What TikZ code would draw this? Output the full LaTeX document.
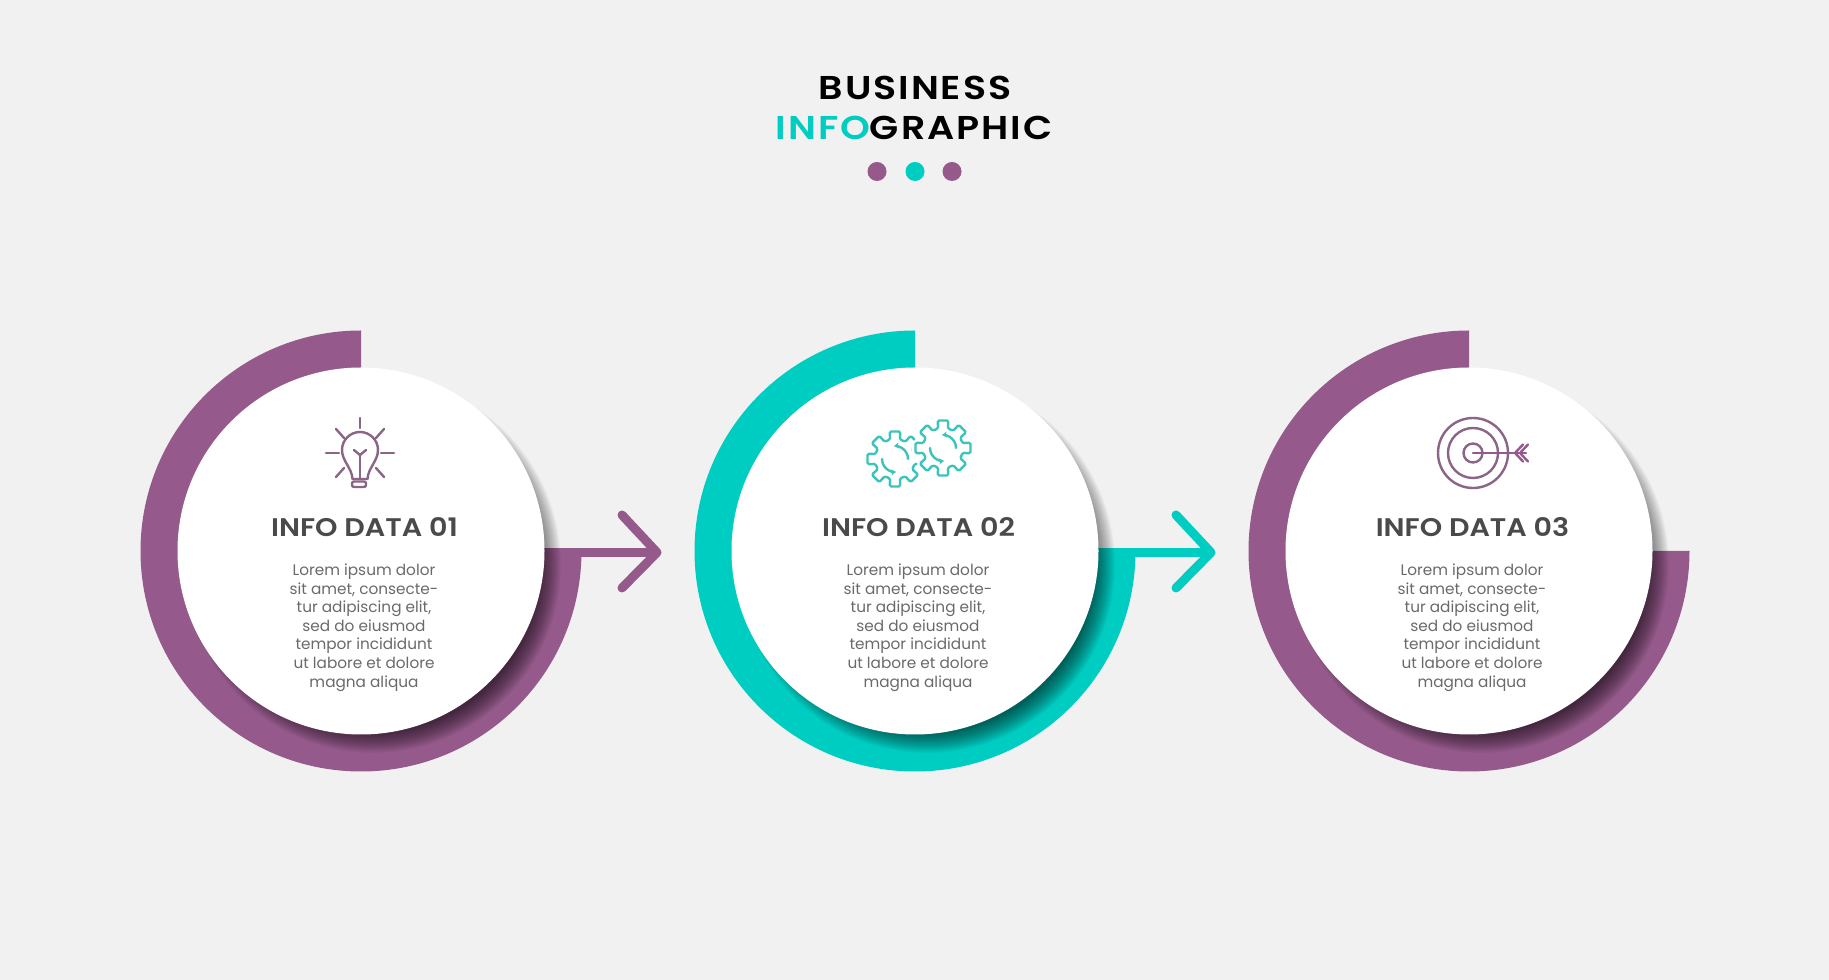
\documentclass[tikz,border=0pt]{standalone}
\usepackage{fontspec}
\setmainfont{Poppins}
\newfontfamily\headfont[FakeStretch=1.12]{Poppins SemiBold}
\newfontfamily\titlefont[FakeStretch=1.15, LetterSpace=6]{Poppins SemiBold}
\usepackage{xcolor}
\definecolor{plum}{HTML}{955A8B}
\definecolor{aqua}{HTML}{00CDC2}
\definecolor{paper}{HTML}{F1F1F1}
\definecolor{iconplum}{HTML}{8B6585}
\definecolor{iconaqua}{HTML}{3CC4BC}
\definecolor{heading}{HTML}{4A4A4A}
\definecolor{bodytext}{HTML}{6A6A6A}
\usepackage{tikz}
\usetikzlibrary{arrows.meta, positioning, calc}

\tikzset{
  disc/.style={circle, fill=white, minimum size=367pt, inner sep=0pt},
  headline/.style={font=\headfont\fontsize{25.5}{30}\selectfont, text=heading},
  bodycopy/.style={font=\fontsize{15.3}{18.6}\selectfont, text=bodytext, align=center},
  titleline/.style={font=\titlefont\fontsize{33}{40}\selectfont, text=black},
  pointer/.style={line width=9pt, line cap=round, line join=round},
  icon/.style={line width=2.4pt, line cap=round, line join=round},
}

% soft shadow under a disc, #1 = centre
\newcommand{\discshadow}[1]{
  \foreach \s in {168,169,...,188}
    \fill[black, opacity=0.03] ($(#1)+(12,-14)$) circle (\s);
}
% one gear, #1 = centre
\newcommand{\gearoutline}[1]{
  \begin{scope}[shift={(#1)}]
    \draw[icon, iconaqua, fill=white, rounded corners=1.5pt, preaction={draw=white, line width=7pt}] (-22.5:20) \foreach \a in {0,45,...,315} {
      -- (\a-14:20) -- (\a-11:28) -- (\a+11:28) -- (\a+14:20) -- (\a+22.5:20)
    };
    \draw[icon, iconaqua, -{Stealth[length=5pt, width=6pt]}] (0:13) arc (0:95:13);
    \draw[icon, iconaqua, -{Stealth[length=5pt, width=6pt]}] (180:13) arc (180:275:13);
  \end{scope}
}

\begin{document}
\begin{tikzpicture}[x=1pt, y=1pt]
  \useasboundingbox[fill=paper] (0, 0) rectangle (1829, 980);

  % Title
  \node[titleline] (title1) at (915, 892) {BUSINESS};
  \node[titleline] (title2) at (914, 852) {\textcolor{aqua}{INFO}GRAPHIC};
  \fill[plum] (877, 808.5) circle (9.5);
  \fill[aqua] (915, 808.5) circle (9.5);
  \fill[plum] (952, 808.5) circle (9.5);

  % Step 1
  \coordinate (ctr1) at (361, 429);
  \coordinate (root1) at (361, 427.5);
  \coordinate (tip1) at (657, 427.5);
  \coordinate (barb1a) at (622, 465);
  \coordinate (barb1b) at (622, 392);
  \fill[plum] (ctr1) -- ++(0, 220.5) arc (90:360:220.5) -- cycle;
  \draw[pointer, plum, line cap=butt] (root1) -- (tip1);
  \draw[pointer, plum] (barb1a) -- (tip1) -- (barb1b);
  \discshadow{ctr1}
  \node[disc] (disc1) at (ctr1) {};
  \node[headline] (head1) at (364.5, 453) {INFO DATA 01};
  \node[bodycopy] (body1) at (364, 352.5) {Lorem ipsum dolor\\sit amet, consecte-\\tur adipiscing elit,\\sed do eiusmod\\tempor incididunt\\ut labore et dolore\\magna aliqua};

  % Bulb icon
  \begin{scope}[shift={(360, 527)}]
    \draw[icon, iconplum] (-7.5, -26) .. controls (-8, -15) and (-18, -8) .. (-18, 3) arc (180:0:18) .. controls (18, -8) and (8, -15) .. (7.5, -26) -- cycle;
    \draw[icon, iconplum, rounded corners=2pt] (-8, -28.5) rectangle (6, -34);
    \draw[icon, iconplum] (-6, 3) -- (0, -2) -- (6, 3);
    \draw[icon, iconplum] (0, -2) -- (0, -26);
    \draw[icon, iconplum] (0, 35) -- (0, 25);
    \draw[icon, iconplum] (-34, 0) -- (-21, 0);
    \draw[icon, iconplum] (34, 0) -- (21, 0);
    \draw[icon, iconplum] (-24, 24) -- (-16, 15);
    \draw[icon, iconplum] (24, 24) -- (16, 15);
    \draw[icon, iconplum] (-24, -24) -- (-16, -15);
    \draw[icon, iconplum] (24, -24) -- (16, -15);
  \end{scope}

  % Step 2
  \coordinate (ctr2) at (915, 429);
  \coordinate (root2) at (915, 427.5);
  \coordinate (tip2) at (1211, 427.5);
  \coordinate (barb2a) at (1176, 465);
  \coordinate (barb2b) at (1176, 392);
  \fill[aqua] (ctr2) -- ++(0, 220.5) arc (90:360:220.5) -- cycle;
  \draw[pointer, aqua, line cap=butt] (root2) -- (tip2);
  \draw[pointer, aqua] (barb2a) -- (tip2) -- (barb2b);
  \discshadow{ctr2}
  \node[disc] (disc2) at (ctr2) {};
  \node[headline] (head2) at (918.5, 453) {INFO DATA 02};
  \node[bodycopy] (body2) at (918, 352.5) {Lorem ipsum dolor\\sit amet, consecte-\\tur adipiscing elit,\\sed do eiusmod\\tempor incididunt\\ut labore et dolore\\magna aliqua};

  % Gears icon
  \gearoutline{895, 521}
  \gearoutline{943, 532}

  % Step 3
  \coordinate (ctr3) at (1469, 429);
  \fill[plum] (ctr3) -- ++(0, 220.5) arc (90:360:220.5) -- cycle;
  \discshadow{ctr3}
  \node[disc] (disc3) at (ctr3) {};
  \node[headline] (head3) at (1472.5, 453) {INFO DATA 03};
  \node[bodycopy] (body3) at (1472, 352.5) {Lorem ipsum dolor\\sit amet, consecte-\\tur adipiscing elit,\\sed do eiusmod\\tempor incididunt\\ut labore et dolore\\magna aliqua};

  % Target icon
  \begin{scope}[shift={(1473, 527)}]
    \draw[icon, iconplum] (0, 0) circle (35);
    \draw[icon, iconplum] (0, 0) circle (25);
    \draw[icon, iconplum] (0, 0) circle (9.5);
    \draw[icon, plum] (0, 0) -- (53, 0);
    \draw[icon, plum] (50, 8.5) -- (42, 0) -- (50, -8.5);
    \draw[icon, plum] (55, 8.5) -- (47, 0) -- (55, -8.5);
  \end{scope}
\end{tikzpicture}
\end{document}
